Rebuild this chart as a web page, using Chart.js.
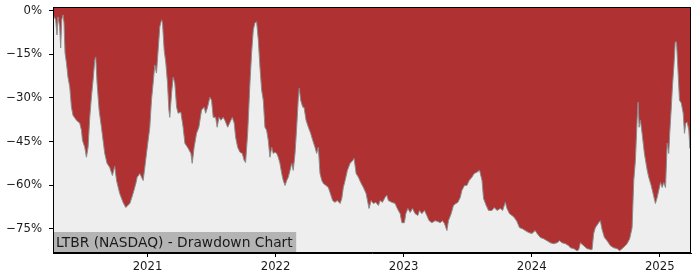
<!DOCTYPE html>
<html>
<head>
<meta charset="utf-8">
<script src="https://cdn.jsdelivr.net/npm/chart.js@4/dist/chart.umd.min.js"></script>
<style>
  html, body { margin: 0; padding: 0; background: #ffffff; }
  #c { display: block; }
</style>
</head>
<body>
<canvas id="c" width="700" height="280"></canvas>
<script>
// ---- Data ----
const chartLabel = 'LTBR (NASDAQ) - Drawdown Chart';

// dates as decimal years
const dates = [
2020.262,2020.270,2020.283,2020.293,2020.301,2020.314,2020.322,2020.330,2020.340,2020.348,
2020.356,2020.367,2020.379,2020.393,2020.406,2020.418,2020.445,2020.471,2020.484,2020.492,
2020.510,2020.523,2020.536,2020.549,2020.562,2020.575,2020.588,2020.596,2020.606,2020.622,
2020.640,2020.653,2020.666,2020.684,2020.705,2020.726,2020.744,2020.758,2020.783,2020.809,
2020.830,2020.862,2020.887,2020.909,2020.919,2020.940,2020.966,2020.979,2020.992,2021.005,
2021.018,2021.031,2021.044,2021.057,2021.070,2021.083,2021.096,2021.110,2021.117,2021.130,
2021.143,2021.156,2021.167,2021.174,2021.188,2021.200,2021.213,2021.227,2021.239,2021.260,
2021.278,2021.292,2021.317,2021.339,2021.349,2021.364,2021.383,2021.401,2021.422,2021.443,
2021.454,2021.469,2021.487,2021.500,2021.513,2021.532,2021.544,2021.558,2021.573,2021.591,
2021.604,2021.626,2021.644,2021.662,2021.677,2021.688,2021.704,2021.722,2021.740,2021.755,
2021.766,2021.782,2021.800,2021.813,2021.826,2021.839,2021.852,2021.865,2021.878,2021.891,
2021.904,2021.917,2021.930,2021.943,2021.956,2021.970,2021.982,2021.995,2022.009,2022.021,
2022.034,2022.048,2022.060,2022.074,2022.087,2022.099,2022.113,2022.126,2022.138,2022.152,
2022.165,2022.178,2022.185,2022.196,2022.212,2022.222,2022.238,2022.256,2022.274,2022.290,
2022.308,2022.321,2022.334,2022.347,2022.361,2022.373,2022.394,2022.412,2022.425,2022.446,
2022.464,2022.482,2022.504,2022.517,2022.529,2022.543,2022.561,2022.582,2022.603,2022.613,
2022.629,2022.647,2022.665,2022.686,2022.707,2022.730,2022.746,2022.764,2022.783,2022.803,
2022.816,2022.834,2022.855,2022.869,2022.881,2022.908,2022.934,2022.947,2022.959,2022.973,
2022.986,2023.006,2023.017,2023.033,2023.051,2023.069,2023.090,2023.111,2023.124,2023.142,
2023.163,2023.181,2023.199,2023.221,2023.246,2023.267,2023.285,2023.303,2023.319,2023.338,
2023.350,2023.371,2023.389,2023.408,2023.424,2023.442,2023.455,2023.475,2023.494,2023.512,
2023.533,2023.551,2023.572,2023.593,2023.612,2023.624,2023.645,2023.663,2023.690,2023.708,
2023.729,2023.755,2023.773,2023.794,2023.807,2023.827,2023.846,2023.864,2023.885,2023.905,
2023.924,2023.950,2023.976,2024.002,2024.027,2024.042,2024.068,2024.093,2024.120,2024.146,
2024.171,2024.198,2024.218,2024.237,2024.263,2024.289,2024.302,2024.328,2024.354,2024.367,
2024.380,2024.406,2024.432,2024.471,2024.484,2024.497,2024.523,2024.536,2024.550,2024.568,
2024.589,2024.615,2024.640,2024.667,2024.687,2024.714,2024.745,2024.765,2024.784,2024.797,
2024.810,2024.823,2024.831,2024.839,2024.849,2024.862,2024.880,2024.902,2024.914,2024.933,
2024.948,2024.966,2024.980,2024.992,2025.006,2025.019,2025.031,2025.045,2025.058,2025.070,
2025.078,2025.089,2025.099,2025.110,2025.121,2025.131,2025.141,2025.154,2025.168,2025.183,
2025.193,2025.203,2025.214,2025.227,2025.235,2025.244
];

// drawdown in percent
const drawdown = [
-1.5,-2.2,-3.2,-8.4,-2.2,-5.6,-12.9,-3.2,-1.5,-4.2,
-14.6,-18.0,-22.9,-26.3,-33.2,-36.0,-37.7,-38.7,-41.1,-44.6,
-47.0,-50.4,-47.0,-36.7,-29.8,-23.9,-17.0,-16.0,-24.9,-34.2,
-40.1,-44.6,-49.1,-52.5,-53.9,-56.7,-53.5,-58.4,-62.9,-65.9,
-67.7,-66.3,-62.9,-59.4,-57.3,-56.0,-58.4,-53.9,-49.1,-44.6,
-40.1,-30.8,-24.9,-18.7,-21.5,-13.6,-5.6,-3.2,-4.2,-13.6,
-18.0,-24.9,-34.2,-36.7,-28.4,-22.9,-24.9,-33.2,-35.3,-34.9,
-40.1,-45.6,-47.3,-49.1,-52.5,-47.0,-42.2,-40.1,-34.2,-33.2,
-35.3,-33.2,-29.8,-30.8,-36.7,-36.7,-40.1,-36.7,-37.7,-36.7,
-37.7,-40.1,-38.4,-36.7,-38.7,-43.5,-47.0,-48.7,-49.1,-51.5,
-52.2,-42.2,-24.9,-14.6,-6.7,-4.2,-3.9,-10.1,-19.4,-27.3,
-30.8,-40.1,-41.1,-44.6,-50.4,-47.0,-49.1,-48.7,-49.1,-50.4,
-52.5,-56.0,-58.4,-60.1,-58.4,-57.3,-54.9,-52.5,-54.9,-49.1,
-40.1,-29.8,-26.7,-30.8,-33.2,-33.2,-37.7,-40.1,-42.2,-44.6,
-47.0,-49.1,-47.0,-56.0,-58.4,-59.4,-60.1,-60.8,-62.5,-65.3,
-65.9,-65.3,-66.3,-64.6,-60.8,-58.4,-54.9,-52.5,-51.5,-50.8,
-56.0,-57.3,-59.1,-60.8,-62.9,-68.0,-65.3,-66.3,-65.9,-67.0,
-65.3,-65.9,-64.2,-63.5,-65.3,-65.9,-66.3,-67.7,-68.7,-69.8,
-72.9,-72.9,-69.8,-68.0,-69.4,-68.0,-69.8,-70.4,-68.7,-69.8,
-68.7,-70.4,-72.2,-72.9,-72.2,-72.5,-72.9,-72.2,-73.2,-75.6,
-72.2,-69.8,-67.0,-66.3,-65.9,-64.2,-61.8,-60.1,-60.1,-58.4,
-57.3,-56.0,-55.6,-54.9,-58.4,-64.6,-67.0,-68.7,-68.7,-67.7,
-68.7,-68.0,-68.7,-65.9,-68.0,-69.8,-70.4,-71.1,-72.5,-74.6,
-74.9,-75.6,-76.3,-76.6,-75.6,-76.6,-78.0,-78.4,-79.1,-79.8,
-80.1,-79.8,-79.1,-79.8,-80.1,-80.8,-81.5,-81.8,-82.5,-82.2,
-79.8,-80.8,-81.8,-82.2,-76.6,-74.6,-72.9,-72.2,-75.3,-78.0,
-79.1,-80.8,-81.5,-81.8,-82.5,-81.5,-80.1,-78.4,-74.6,-58.4,
-51.5,-37.7,-31.5,-40.1,-37.7,-42.2,-49.1,-54.9,-57.3,-60.1,
-62.9,-66.3,-64.2,-61.8,-59.1,-60.8,-59.1,-60.8,-45.6,-49.1,
-42.2,-34.2,-26.3,-19.4,-10.8,-10.8,-19.4,-30.8,-31.8,-35.3,
-42.2,-38.7,-38.4,-41.1,-47.3,-47.3
];

const yTickValues = [0, -15, -30, -45, -60, -75];
const yTickLabels = ['0%', '\u221215%', '\u221230%', '\u221245%', '\u221260%', '\u221275%'];
const xTickValues = [2021, 2022, 2023, 2024, 2025];
const xTickLabels = ['2021', '2022', '2023', '2024', '2025'];

// ---- Chart ----
const points = dates.map((d, i) => ({ x: d, y: drawdown[i] }));
const FONT = 'DejaVu Sans';

const framePlugin = {
  id: 'frame',
  beforeDraw(chart) {
    const { ctx, chartArea: a } = chart;
    ctx.save();
    ctx.fillStyle = '#EEEEEE';
    ctx.fillRect(a.left, a.top, a.right - a.left, a.bottom - a.top);
    ctx.restore();
  },
  afterDatasetsDraw(chart) {
    const { ctx, chartArea: a } = chart;
    ctx.save();
    // label box
    ctx.font = '13.8px "' + FONT + '"';
    const tw = ctx.measureText(chartLabel).width;
    ctx.fillStyle = '#B4B4B4';
    ctx.fillRect(a.left, a.bottom - 21, tw + 6.5, 21);
    ctx.fillStyle = '#1a1a1a';
    ctx.textBaseline = 'alphabetic';
    ctx.textAlign = 'left';
    ctx.fillText(chartLabel, a.left + 3, a.bottom - 6.3);
    // frame
    ctx.strokeStyle = '#000000';
    ctx.lineWidth = 1;
    ctx.strokeRect(a.left + 0.5, a.top + 0.5, a.right - a.left - 1, a.bottom - a.top - 1);
    ctx.restore();
  }
};

new Chart(document.getElementById('c'), {
  type: 'line',
  data: {
    datasets: [{
      data: points,
      borderColor: '#8c8c8c',
      borderWidth: 1,
      backgroundColor: '#AF3131',
      fill: 'end',
      pointRadius: 0,
      tension: 0
    }]
  },
  options: {
    responsive: false,
    animation: false,
    devicePixelRatio: 1,
    layout: { autoPadding: false, padding: { left: 0, right: 9, top: 7, bottom: 0 } },
    plugins: { legend: { display: false }, tooltip: { enabled: false } },
    scales: {
      x: {
        type: 'linear',
        min: dates[0],
        max: dates[dates.length - 1],
        afterBuildTicks: (s) => { s.ticks = xTickValues.map(v => ({ value: v })); },
        afterFit: (s) => { s.height = 27; s.paddingLeft = 0; s.paddingRight = 0; },
        ticks: {
          autoSkip: false, maxRotation: 0, padding: 3,
          color: '#1a1a1a',
          font: { family: FONT, size: 11.7 },
          callback: (v) => xTickLabels[xTickValues.indexOf(v)]
        },
        grid: { drawOnChartArea: false, drawTicks: true, tickLength: 4, color: '#000000' },
        border: { display: true, color: '#000000' }
      },
      y: {
        min: -83.3,
        max: 1.2,
        afterBuildTicks: (s) => { s.ticks = yTickValues.map(v => ({ value: v })); },
        afterFit: (s) => { s.width = 53; s.paddingTop = 0; s.paddingBottom = 0; },
        ticks: {
          padding: 7,
          color: '#1a1a1a',
          font: { family: FONT, size: 11.7 },
          callback: (v) => yTickLabels[yTickValues.indexOf(v)]
        },
        grid: { drawOnChartArea: false, drawTicks: true, tickLength: 4, color: '#000000' },
        border: { display: true, color: '#000000' }
      }
    }
  },
  plugins: [framePlugin]
});
</script>
</body>
</html>
